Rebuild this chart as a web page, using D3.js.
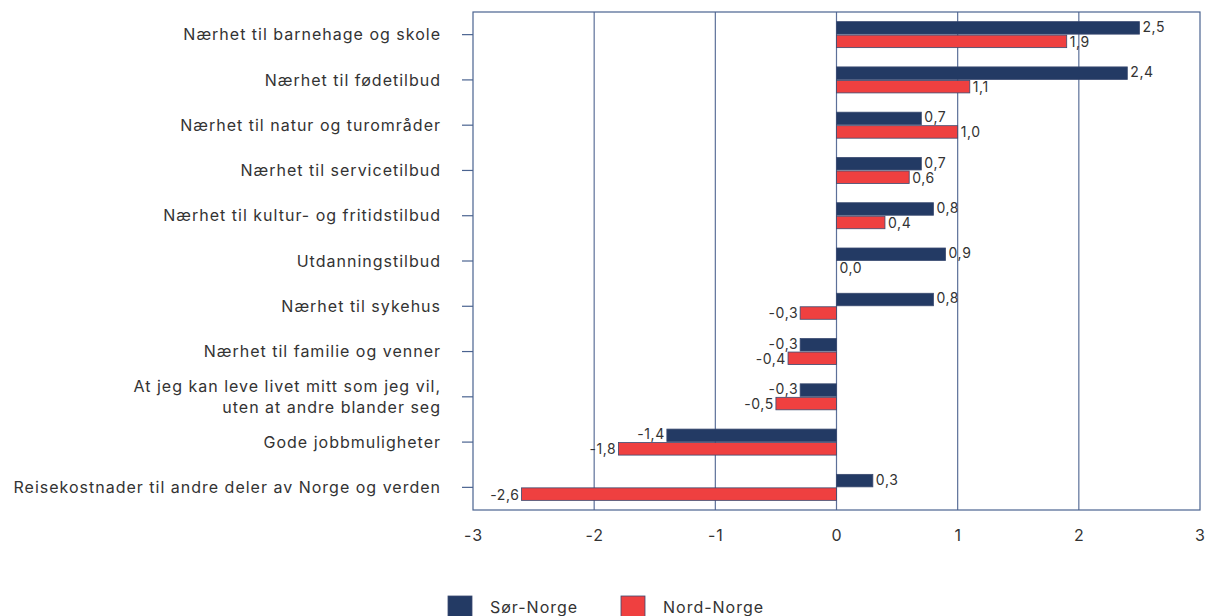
<!DOCTYPE html>
<html>
<head>
<meta charset="utf-8">
<script src="https://cdn.jsdelivr.net/npm/d3@7"></script>
<style>
  body { margin: 0; background: #fff; }
  text { font-family: Inter, "Noto Sans", sans-serif; fill: #333; }
</style>
</head>
<body>
<div id="chart"></div>
<script>
// data
var categories = [
    'Nærhet til barnehage og skole',
    'Nærhet til fødetilbud',
    'Nærhet til natur og turområder',
    'Nærhet til servicetilbud',
    'Nærhet til kultur- og fritidstilbud',
    'Utdanningstilbud',
    'Nærhet til sykehus',
    'Nærhet til familie og venner',
    'At jeg kan leve livet mitt som jeg vil,|uten at andre blander seg',
    'Gode jobbmuligheter',
    'Reisekostnader til andre deler av Norge og verden'
];
var sorNorge = [2.5, 2.4, 0.7, 0.7, 0.8, 0.9, 0.8, -0.3, -0.3, -1.4, 0.3];
var nordNorge = [1.9, 1.1, 1.0, 0.6, 0.4, 0.0, -0.3, -0.4, -0.5, -1.8, -2.6];
var seriesNames = ['Sør-Norge', 'Nord-Norge'];
var xTicks = [-3, -2, -1, 0, 1, 2, 3];

var colors = ['#233a64', '#ef4040'];

var svgWidth = 1206;
var svgHeight = 616;

var margin = { top: 12, right: 6, bottom: 106, left: 473 };
var width = svgWidth - margin.left - margin.right;
var height = svgHeight - margin.top - margin.bottom;

var svg = d3.select('#chart')
    .append('svg')
    .attr('width', svgWidth)
    .attr('height', svgHeight);

var chartGroup = svg.append('g')
    .attr('transform', `translate(${margin.left}, ${margin.top})`);

var x = d3.scaleLinear()
    .domain([-3, 3])
    .range([0, width]);

var y = d3.scaleBand()
    .domain(categories)
    .range([0, height]);

// comma decimals, plain hyphen for minus
var fmt = function(v) { return v.toFixed(1).replace('.', ','); };

// gridlines
chartGroup.selectAll('.grid')
    .data(xTicks.slice(1, -1))
    .enter()
    .append('line')
    .attr('x1', d => x(d))
    .attr('x2', d => x(d))
    .attr('y1', 0)
    .attr('y2', height)
    .attr('stroke', '#5c7099')
    .attr('stroke-width', 1.2);

// frame
chartGroup.append('rect')
    .attr('x', 0)
    .attr('y', 0)
    .attr('width', width)
    .attr('height', height)
    .attr('fill', 'none')
    .attr('stroke', '#4a6390')
    .attr('stroke-width', 1.2);

// x axis labels
var bottomAxis = d3.axisBottom(x)
    .tickValues(xTicks)
    .tickSize(0)
    .tickPadding(20)
    .tickFormat(d => String(d));

var xAxis = chartGroup.append('g')
    .attr('transform', `translate(0, ${height})`)
    .call(bottomAxis);
xAxis.select('.domain').remove();
xAxis.selectAll('text')
    .style('font-family', 'Inter, sans-serif')
    .style('font-size', '16px')
    .style('letter-spacing', '1px')
    .attr('fill', '#333');

// y axis ticks
var leftAxis = d3.axisLeft(y)
    .tickSize(11)
    .tickFormat('');
var yAxis = chartGroup.append('g').call(leftAxis);
yAxis.select('.domain').remove();
yAxis.selectAll('line').attr('stroke', '#4a6390').attr('stroke-width', 1.2);

// category labels
var labels = chartGroup.selectAll('.cat')
    .data(categories)
    .enter()
    .append('text')
    .attr('text-anchor', 'end')
    .style('font-size', '16px')
    .style('letter-spacing', '1px')
    .attr('transform', d => `translate(-32, ${y(d) + y.bandwidth() / 2})`);

labels.each(function(d) {
    var lines = d.split('|');
    var t = d3.select(this);
    lines.forEach(function(line, i) {
        t.append('tspan')
            .attr('x', 0)
            .attr('y', (i - (lines.length - 1) / 2) * 21)
            .attr('dy', '0.35em')
            .text(line);
    });
});

// bars
var barH = 12.5;
var gap = 1;
[sorNorge, nordNorge].forEach(function(values, s) {
    var offset = s === 0 ? -barH - gap / 2 : gap / 2;
    var rows = categories.map((c, i) => ({ cat: c, value: values[i] }));

    chartGroup.selectAll('.bar' + s)
        .data(rows)
        .enter()
        .append('rect')
        .attr('x', d => x(Math.min(0, d.value)))
        .attr('y', d => y(d.cat) + y.bandwidth() / 2 + offset)
        .attr('width', d => Math.abs(x(d.value) - x(0)))
        .attr('height', barH)
        .attr('fill', colors[s])
        .attr('stroke', '#3a4a70')
        .attr('stroke-width', 0.8);

    chartGroup.selectAll('.val' + s)
        .data(rows)
        .enter()
        .append('text')
        .attr('x', d => d.value < 0 ? x(d.value) - 2 : x(d.value) + 3)
        .attr('y', d => y(d.cat) + y.bandwidth() / 2 + offset + barH / 2 + (s === 0 ? -1 : 0.5))
        .attr('dy', '0.35em')
        .attr('text-anchor', d => d.value < 0 ? 'end' : 'start')
        .style('font-size', '14px')
        .style('letter-spacing', '0.6px')
        .text(d => fmt(d.value));
});

// legend
var legend = svg.append('g')
    .attr('transform', 'translate(448, 596)');

var legendItems = legend.selectAll('g')
    .data(seriesNames)
    .enter()
    .append('g')
    .attr('transform', (d, i) => `translate(${i * 173}, 0)`);

legendItems.append('rect')
    .attr('width', 24)
    .attr('height', 22)
    .attr('fill', (d, i) => colors[i])
    .attr('stroke', '#3a4a70')
    .attr('stroke-width', 0.8);

legendItems.append('text')
    .attr('x', 42)
    .attr('y', 11)
    .attr('dy', '0.35em')
    .style('font-size', '16px')
    .style('letter-spacing', '1px')
    .text(d => d);
</script>
</body>
</html>
